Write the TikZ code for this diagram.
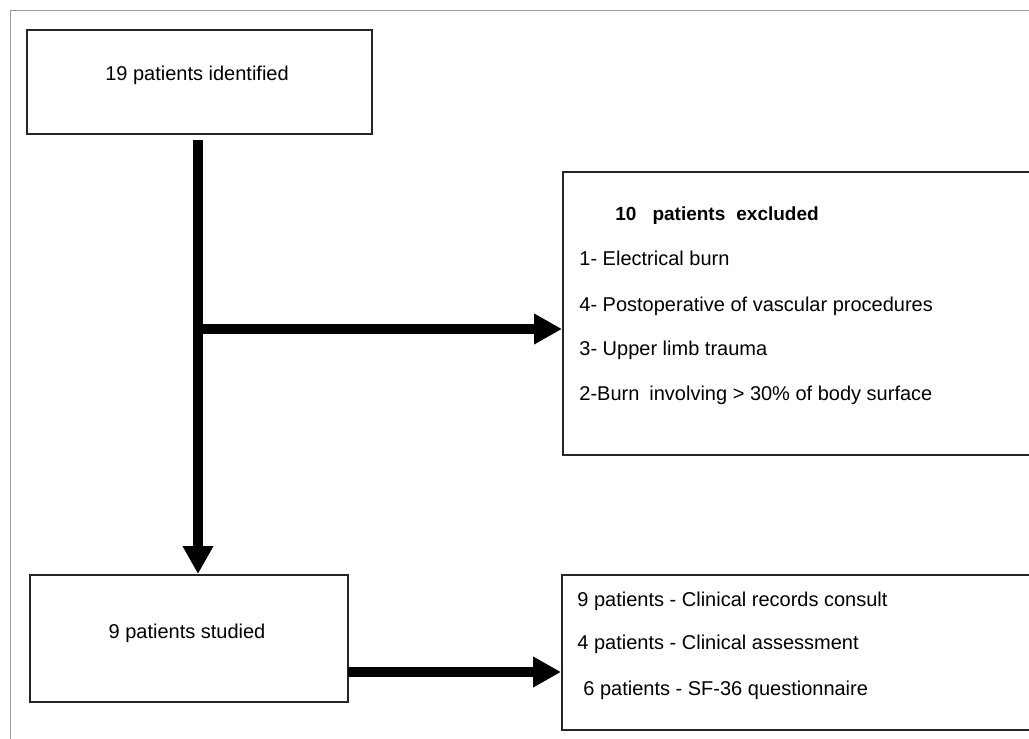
\documentclass[tikz,border=0pt]{standalone}
\usepackage{fontspec}
\setmainfont{Liberation Sans}
\usetikzlibrary{arrows.meta}

\begin{document}
\begin{tikzpicture}[x=0.5pt, y=-0.5pt,
        flowbox/.style={draw=black!85, line width=1pt, inner sep=0pt},
        flowtext/.style={inner sep=0pt, text height=7.2pt, text depth=0pt, font=\fontsize{10}{12}\selectfont},
        flowline/.style={flowtext, anchor=west},
        flowarrow/.style={line width=5pt, -{Triangle[length=14pt, width=14.5pt]}}]
        \useasboundingbox (0,0) rectangle (1029,739);
        \draw[black!40] (1029,10) -- (10,10) -- (10,739);
        % boxes
        \node[flowbox, minimum width=172.5pt, minimum height=52pt] (FLOW_ID) at (199.5,82) {};
        \node[flowbox, minimum width=240pt, minimum height=141.5pt] (FLOW_EXCL) at (803,313.5) {};
        \node[flowbox, minimum width=159pt, minimum height=63.5pt] (FLOW_STUDY) at (189,638.5) {};
        \node[flowbox, minimum width=240.5pt, minimum height=77.5pt] (FLOW_RES) at (802.5,652.5) {};
        % texts
        \node[flowtext] (ID_LABEL) at (197,73) {
            19 patients identified
        };
        \node[flowtext] (STUDY_LABEL) at (187,631) {
            9 patients studied
        };
        \node[flowline, font=\bfseries\fontsize{9.5}{11}\selectfont] (EXCL_TITLE) at (615,213) {
            10\hspace{8pt}patients\hspace{5.5pt}excluded
        };
        \node[flowline] (EXCL_A) at (579,258) {1- Electrical burn};
        \node[flowline] (EXCL_B) at (579,304) {4- Postoperative of vascular procedures};
        \node[flowline] (EXCL_C) at (579,348) {3- Upper limb trauma};
        \node[flowline] (EXCL_D) at (579,393) {2-Burn\hspace{5pt}involving > 30\% of body surface};
        \node[flowline] (RES_A) at (577,599) {9 patients - Clinical records consult};
        \node[flowline] (RES_B) at (577,642) {4 patients - Clinical assessment};
        \node[flowline] (RES_C) at (583,688) {6 patients - SF-36 questionnaire};
        % arrows
        \coordinate (BRANCH) at (198,329);
        \coordinate (LOWOUT) at (348,672);
        \draw[flowarrow] ([xshift=-0.75pt, yshift=-2.5pt]FLOW_ID.south) to ([xshift=-0.75pt]FLOW_ID.south |- FLOW_STUDY.north);
        \draw[flowarrow] (BRANCH) to (BRANCH -| FLOW_EXCL.west);
        \draw[flowarrow] (LOWOUT) to (LOWOUT -| FLOW_RES.west);
\end{tikzpicture}
\end{document}
